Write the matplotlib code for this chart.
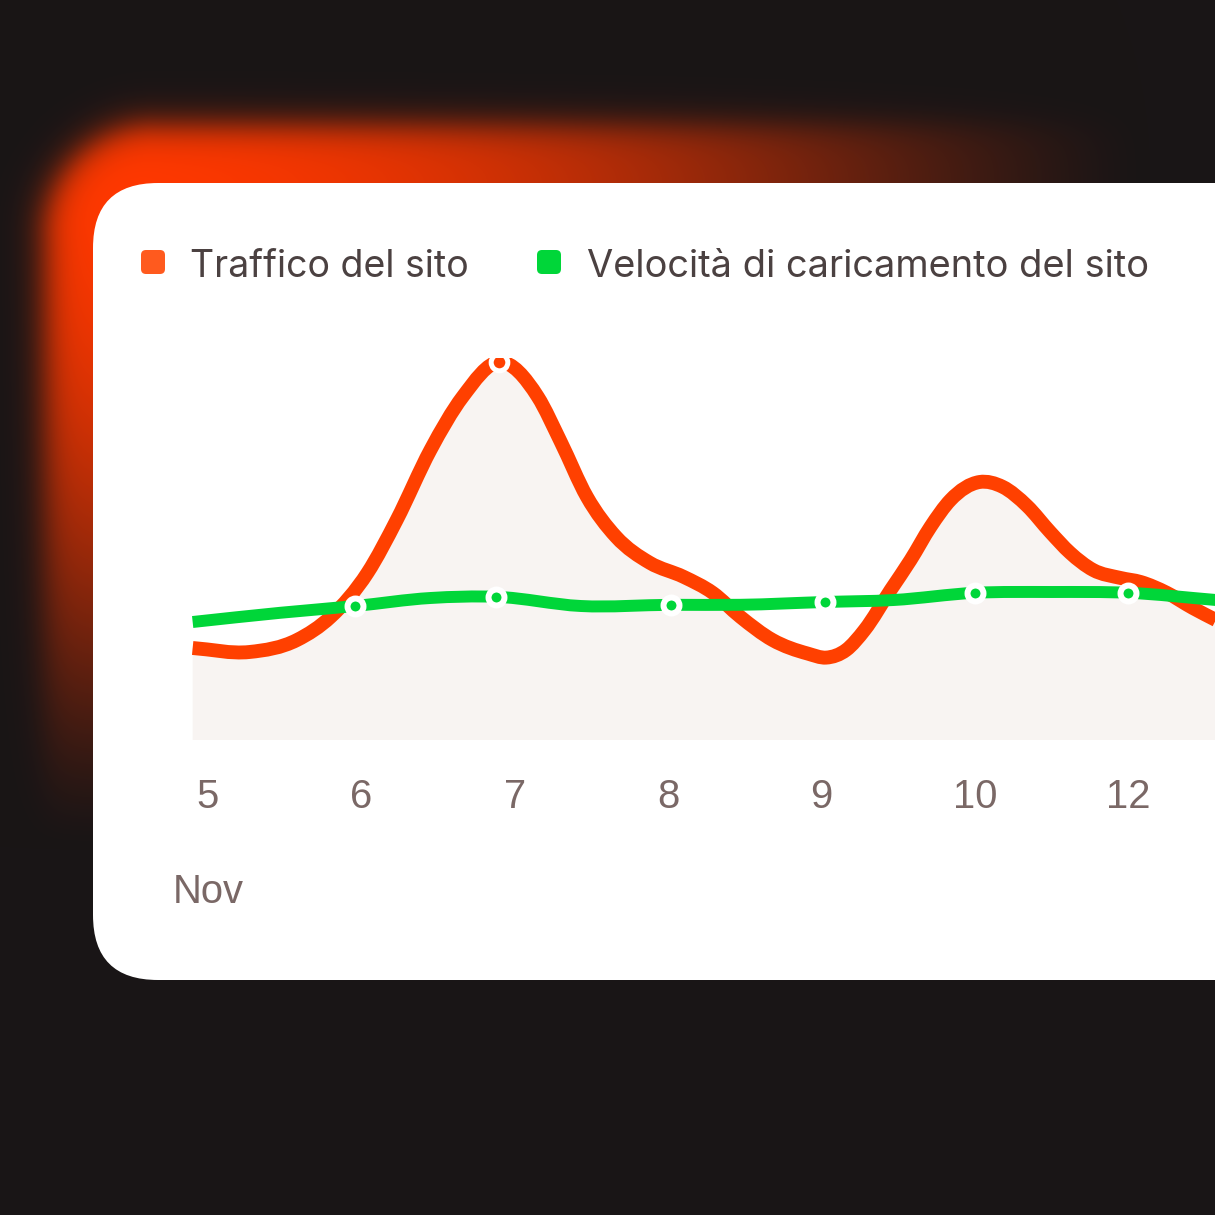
import numpy as np
import matplotlib
matplotlib.use("Agg")
import matplotlib.pyplot as plt
from matplotlib.path import Path
from matplotlib.patches import PathPatch, FancyBboxPatch

# ================================ DATOS ================================
etiquetas_x = ['5', '6', '7', '8', '9', '10', '12']
mes = 'Nov'
serie_traffico = 'Traffico del sito'
serie_velocita = 'Velocità di caricamento del sito'

# Traffico del sito (posicion sobre el eje x, valor)
x_traffico = [-0.10, 0.27, 0.58, 0.80, 1.04, 1.23, 1.45, 1.66, 1.90, 2.15, 2.30, 2.47,
              2.66, 2.88, 3.10, 3.29, 3.47, 3.68, 3.91, 4.03, 4.16, 4.28, 4.45, 4.58,
              4.71, 4.84, 5.03, 5.18, 5.34, 5.49, 5.62, 5.77, 5.95, 6.08, 6.25, 6.42,
              6.57]
y_traffico = [23.0, 22.0, 25.0, 30.8, 41.8, 55.0, 72.5, 85.8, 94.5, 85.8, 74.5, 60.8,
              50.8, 44.3, 40.8, 36.8, 30.8, 25.0, 21.6, 20.6, 22.5, 27.5, 37.5, 45.0,
              53.3, 60.0, 64.5, 63.3, 58.5, 52.0, 46.8, 42.5, 40.5, 39.5, 36.8, 33.0,
              30.0]
marcador_traffico = [8]  # pico

# Velocita di caricamento
x_velocita = [-0.10, 0.47, 0.96, 1.45, 1.88, 2.43, 3.02, 3.47, 4.02, 4.47, 5.00, 5.50, 6.00, 6.57]
y_velocita = [29.5, 31.8, 33.5, 35.5, 35.8, 33.5, 33.8, 33.8, 34.5, 35.0, 36.8, 37.0, 36.8, 35.0]
marcador_velocita = [2, 4, 6, 8, 10, 12]

# colores
fondo = '#191516'
naranja = '#ff4000'
naranja_leyenda = '#ff5a1e'
verde = '#00d639'
relleno = '#f8f4f2'
texto_leyenda = '#4b4141'
texto_ejes = '#7a6866'

W = H = 1215


def curva_suave(x, y):
    # curva hermite (pendiente de 3 puntos) armada con beziers cubicas de matplotlib
    x = np.asarray(x, float)
    y = np.asarray(y, float)
    h = np.diff(x)
    s = np.diff(y) / h
    m = np.empty_like(y)
    m[0], m[-1] = s[0], s[-1]
    m[1:-1] = (s[:-1] * h[1:] + s[1:] * h[:-1]) / (h[:-1] + h[1:])
    verts = [(x[0], y[0])]
    codes = [Path.MOVETO]
    for i in range(len(x) - 1):
        verts += [(x[i] + h[i] / 3, y[i] + m[i] * h[i] / 3),
                  (x[i + 1] - h[i] / 3, y[i + 1] - m[i + 1] * h[i] / 3),
                  (x[i + 1], y[i + 1])]
        codes += [Path.CURVE4] * 3
    return verts, codes


# ================================ FONDO + BRILLO ================================
yy, xx = np.mgrid[0:H, 0:W] + 0.5
izq, arriba, r = 45.0, 125.0, 110.0
qx = (izq + r) - xx
qy = (arriba + r) - yy
d = np.sqrt(np.maximum(qx, 0)**2 + np.maximum(qy, 0)**2) + np.minimum(np.maximum(qx, qy), 0) - r
borde = 1 / (1 + np.exp(d / 10))
rr = np.sqrt(((xx - 100) / 1050)**2 + ((yy - 170) / 680)**2)
peso = np.clip(1 - rr**2, 0, 1)**1.5
a = (borde * peso)[..., None]
c_fondo = np.array(matplotlib.colors.to_rgb(fondo))
c_brillo = np.array(matplotlib.colors.to_rgb('#ff3800'))
img = c_fondo * (1 - a) + c_brillo * a

fig = plt.figure(figsize=(W / 100, H / 100), dpi=100)
fig.patch.set_facecolor(fondo)
ax_bg = fig.add_axes([0, 0, 1, 1])
ax_bg.imshow(img, extent=(0, W, H, 0), interpolation='bilinear')
ax_bg.set_xlim(0, W)
ax_bg.set_ylim(H, 0)
ax_bg.axis('off')

# tarjeta blanca
tarjeta = FancyBboxPatch((93, 183), 1400, 797, boxstyle='round,pad=0,rounding_size=65',
                         fc='white', ec='none')
ax_bg.add_patch(tarjeta)

# leyenda
ax_bg.add_patch(FancyBboxPatch((141, 250), 24, 24, boxstyle='round,pad=0,rounding_size=5',
                               fc=naranja_leyenda, ec='none'))
ax_bg.add_patch(FancyBboxPatch((537, 250), 24, 24, boxstyle='round,pad=0,rounding_size=5',
                               fc=verde, ec='none'))
ax_bg.text(190, 277, serie_traffico, fontsize=27.0, family=['Inter', 'DejaVu Sans'],
           color=texto_leyenda, va='baseline', ha='left')
ax_bg.text(587, 277, serie_velocita, fontsize=27.4, family=['Inter', 'DejaVu Sans'],
           color=texto_leyenda, va='baseline', ha='left')

# ================================ GRAFICO ================================
# area del grafico: de y=740 px (valor 0) a y=358 px (recorta el pico)
ax = fig.add_axes([192 / W, (H - 740) / H, (W - 192) / W, 382 / H])
ax.set_xlim(-0.1043, 6.5645)
ax.set_ylim(0, 95.5)
ax.patch.set_alpha(0)
for s in ax.spines.values():
    s.set_visible(False)
ax.set_yticks([])
ax.set_xticks(range(len(etiquetas_x)))
ax.set_xticklabels(etiquetas_x, fontsize=28.8, family='Liberation Sans', color=texto_ejes)
ax.tick_params(axis='x', length=0, pad=49)
for lab in ax.get_xticklabels():
    lab.set_va('baseline')
ax.text(0, (740 - 903) / 382, mes, transform=ax.get_xaxis_transform(), fontsize=28.8,
        family='Liberation Sans', color=texto_ejes, ha='center', va='baseline')

# area bajo el trafico
v, c = curva_suave(x_traffico, y_traffico)
v_area = v + [(x_traffico[-1], 0), (x_traffico[0], 0), (x_traffico[0], 0)]
c_area = c + [Path.LINETO, Path.LINETO, Path.CLOSEPOLY]
ax.add_patch(PathPatch(Path(v_area, c_area), fc=relleno, ec='none', zorder=1))
ax.add_patch(PathPatch(Path(v, c), fill=False, ec=naranja, lw=10.0,
                       capstyle='butt', joinstyle='round', zorder=2))

v2, c2 = curva_suave(x_velocita, y_velocita)
ax.add_patch(PathPatch(Path(v2, c2), fill=False, ec=verde, lw=8.6,
                       capstyle='butt', joinstyle='round', zorder=3))

# marcadores
ax.plot([x_velocita[i] for i in marcador_velocita], [y_velocita[i] for i in marcador_velocita],
        'o', ms=11.5, mfc=verde, mec='white', mew=4.3, zorder=4, clip_on=False)
ax.plot([x_traffico[i] for i in marcador_traffico], [y_traffico[i] for i in marcador_traffico],
        'o', ms=12.0, mfc=naranja, mec='white', mew=3.6, zorder=5)

fig.savefig('out.png', dpi=100, facecolor=fondo)
